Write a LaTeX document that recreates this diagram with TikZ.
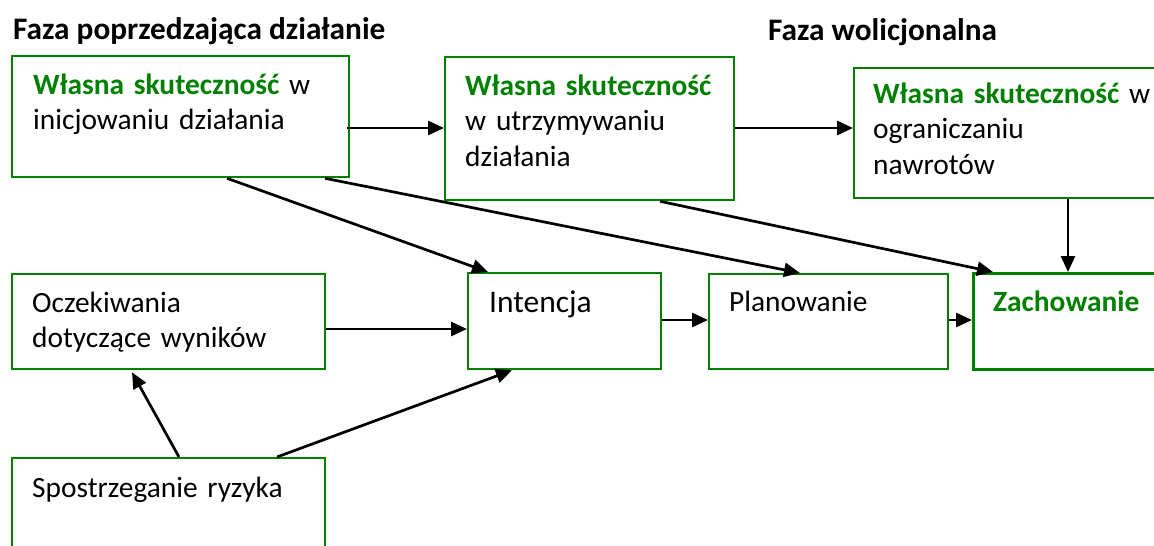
\documentclass[tikz,border=0pt]{standalone}
\usepackage{fontspec}
\setmainfont{Carlito}
\usetikzlibrary{arrows.meta,calc}
\definecolor{grn}{RGB}{0,128,0}
\tikzset{
  box/.style={draw=grn, line width=2.3pt, fill=white, anchor=north west, inner sep=0pt},
  zbox/.style={box, line width=3.3pt},
  txt/.style={anchor=base west, inner sep=0pt, text width=#1, align=left,
    font=\fontsize{29.4}{35.5}\selectfont},
  txt/.default=320pt,
  bigtxt/.style={txt=#1, font=\fontsize{31.5}{36}\selectfont},
  hdr/.style={anchor=base west, inner sep=0pt, font=\fontsize{31.3}{36}\selectfont\bfseries},
  arr/.style={line width=2.7pt, -{Triangle[length=16pt,width=14pt]}}
}
\newcommand{\ws}{\textcolor{grn}{\textbf{Własna skuteczność}}}
\begin{document}
\begin{tikzpicture}[x=1pt,y=-1pt]
\useasboundingbox (0,0) rectangle (1154,546);
\clip (0,0) rectangle (1154,546);
% headers
\node[hdr] (h1) at (13,39) {Faza poprzedzająca działanie};
\node[hdr] (h2) at (768,40) {Faza wolicjonalna};
% boxes
\node[box, minimum width=337pt, minimum height=121pt] (A) at (11,55) {};
\node[box, minimum width=289pt, minimum height=143pt] (B) at (444,56) {};
\node[box, minimum width=330pt, minimum height=130pt] (C) at (853,67) {};
\node[box, minimum width=313pt, minimum height=95pt] (O) at (11,273) {};
\node[box, minimum width=193pt, minimum height=96pt] (I) at (467,272) {};
\node[box, minimum width=239pt, minimum height=95pt] (P) at (708,273) {};
\node[zbox, minimum width=230pt, minimum height=96pt] (Z) at (972,272) {};
\node[box, minimum width=313pt, minimum height=130pt] (S) at (11,457) {};
% texts
\node[txt] (tA) at (33,94) {\ws{} w\\inicjowaniu działania};
\node[txt] (tB) at (465,95) {\ws\\w utrzymywaniu\\działania};
\node[txt] (tC) at (873,103) {\ws{} w\\ograniczaniu\\nawrotów};
\node[txt] (tO) at (32,312) {Oczekiwania\\dotyczące wyników};
\node[bigtxt=150pt] (tI) at (489,312) {Intencja};
\node[txt=200pt] (tP) at (729,311) {Planowanie};
\node[txt=170pt] (tZ) at (993,311) {\textcolor{grn}{\textbf{Zachowanie}}};
\node[txt] (tS) at (32,497) {Spostrzeganie ryzyka};
% connectors
\draw[arr] ($(A.north east)+(-3,73)$) -- ($(B.north west)+(0,72)$);
\draw[arr] ($(B.north east)+(0,72)$) -- ($(C.north west)+(0,61)$);
\draw[arr] ($(A.south west)+(216,0)$) -- ($(I.north west)+(21,0)$);
\draw[arr] ($(A.south west)+(314,0)$) -- ($(P.north west)+(92,0)$);
\draw[arr] ($(B.south west)+(216,0)$) -- ($(Z.north west)+(21,0)$);
\draw[arr] ($(C.south west)+(215,0)$) -- ($(Z.north west)+(96,0)$);
\draw[arr] ($(O.north east)+(0,56)$) -- ($(I.north west)+(0,57)$);
\draw[arr] ($(I.north east)+(0,48)$) -- ($(P.north west)+(0,47)$);
\draw[arr] ($(P.north east)+(0,47)$) -- ($(Z.north west)+(0,48)$);
\draw[arr] ($(S.north west)+(168,0)$) -- ($(O.south west)+(121,2)$);
\draw[arr] ($(S.north west)+(266,0)$) -- ($(I.south west)+(45,0)$);
\end{tikzpicture}
\end{document}
